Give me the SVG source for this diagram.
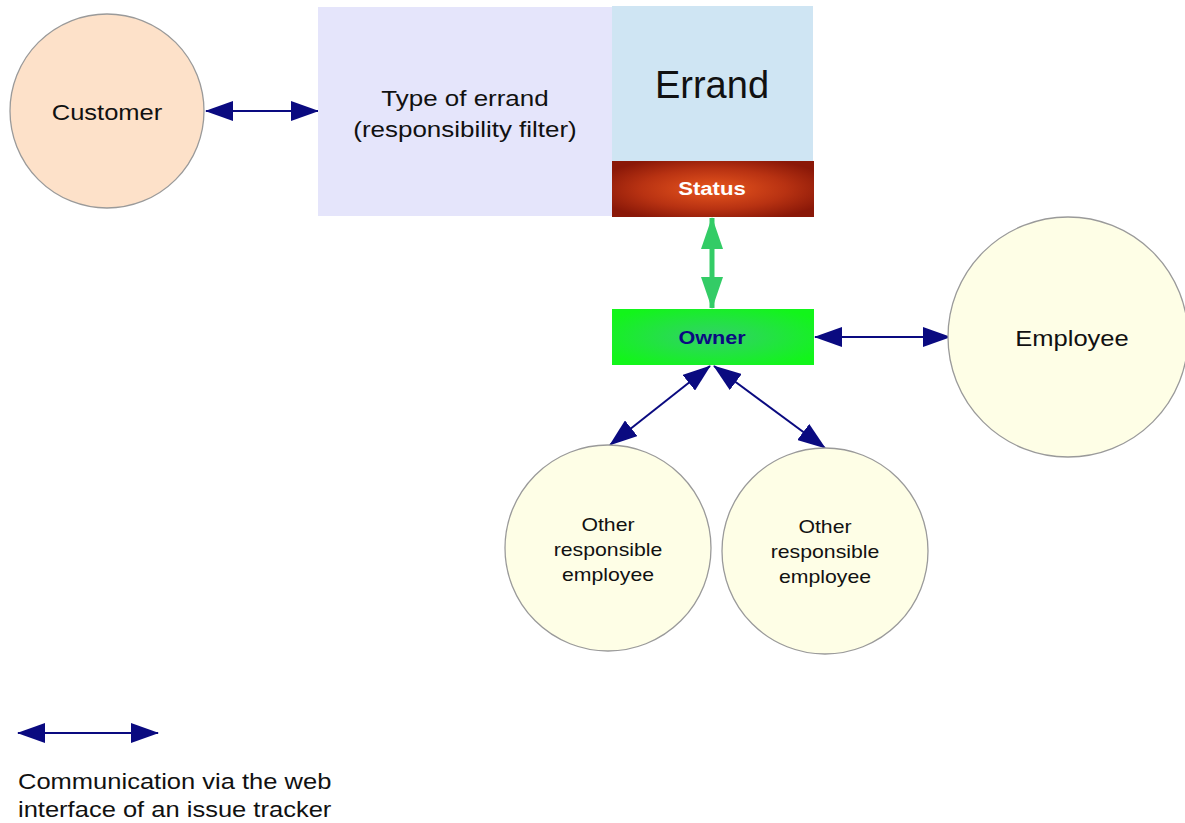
<svg xmlns="http://www.w3.org/2000/svg" width="1185" height="823" viewBox="0 0 1185 823">
<defs>
<style>
text{font-family:"Liberation Sans",Arial,sans-serif;text-anchor:middle;dominant-baseline:central;fill:#111}
.circ{stroke:#9a9a9a;stroke-width:1.3}
.nav{stroke:#0a0a80;stroke-width:2;fill:none;marker-start:url(#nh);marker-end:url(#nh)}
</style>
<marker id="nh" viewBox="0 0 28 20" markerWidth="28" markerHeight="20" refX="27" refY="10" orient="auto-start-reverse" markerUnits="userSpaceOnUse">
<path d="M0,0 L28,10 L0,20 Z" fill="#0a0a80"/>
</marker>
<marker id="gh" viewBox="0 0 32 22" markerWidth="32" markerHeight="22" refX="31" refY="11" orient="auto-start-reverse" markerUnits="userSpaceOnUse">
<path d="M0,0 L32,11 L0,22 Z" fill="#33cc66"/>
</marker>
<radialGradient id="rg" cx="0.5" cy="0.5" r="0.6">
<stop offset="0" stop-color="#e8561e"/>
<stop offset="0.6" stop-color="#b83212"/>
<stop offset="1" stop-color="#8a1808"/>
</radialGradient>
<radialGradient id="gg" cx="0.5" cy="0.5" r="0.6">
<stop offset="0" stop-color="#33d06a"/>
<stop offset="1" stop-color="#12f51a"/>
</radialGradient>
</defs>
<rect width="1185" height="823" fill="#fff"/>
<g id="connectors">
<line class="nav" x1="206" y1="111" x2="318" y2="111"/>
<line x1="712" y1="218" x2="712" y2="308" stroke="#33cc66" stroke-width="5" marker-start="url(#gh)" marker-end="url(#gh)"/>
<line class="nav" x1="815" y1="337" x2="950" y2="337"/>
<line class="nav" x1="710" y1="366" x2="610" y2="445"/>
<line class="nav" x1="714" y1="366" x2="825" y2="448"/>
</g>
<g id="customer">
<circle class="circ" cx="107" cy="111" r="97" fill="#fde1c9"/>
<text transform="translate(107,112) scale(1.16,1)" font-size="22">Customer</text>
</g>
<g id="type-of-errand">
<rect x="318" y="7" width="294" height="209" fill="#e5e5fb"/>
<text transform="translate(465,98) scale(1.18,1)" font-size="22">Type of errand</text>
<text transform="translate(465,129) scale(1.18,1)" font-size="22">(responsibility filter)</text>
</g>
<g id="errand">
<rect x="612" y="6" width="201" height="155" fill="#cfe5f3"/>
<text x="712" y="85" font-size="38">Errand</text>
</g>
<g id="status">
<rect x="612" y="161" width="202" height="56" fill="url(#rg)"/>
<text transform="translate(712,189) scale(1.23,1)" font-size="18" font-weight="bold" style="fill:#fff">Status</text>
</g>
<g id="owner">
<rect x="612" y="309" width="202" height="56" fill="url(#gg)"/>
<text transform="translate(712,338) scale(1.2,1)" font-size="18" font-weight="bold" style="fill:#0a0a80">Owner</text>
</g>
<g id="employee">
<circle class="circ" cx="1068" cy="337" r="120" fill="#fefee6"/>
<text transform="translate(1072,338) scale(1.16,1)" font-size="22">Employee</text>
</g>
<g id="other1">
<circle class="circ" cx="608" cy="548" r="103" fill="#fefee6"/>
<text transform="translate(608,525) scale(1.18,1)" font-size="18">Other</text>
<text transform="translate(608,550) scale(1.18,1)" font-size="18">responsible</text>
<text transform="translate(608,575) scale(1.18,1)" font-size="18">employee</text>
</g>
<g id="other2">
<circle class="circ" cx="825" cy="551" r="103" fill="#fefee6"/>
<text transform="translate(825,527) scale(1.18,1)" font-size="18">Other</text>
<text transform="translate(825,552) scale(1.18,1)" font-size="18">responsible</text>
<text transform="translate(825,577) scale(1.18,1)" font-size="18">employee</text>
</g>
<g id="legend">
<line class="nav" x1="18" y1="733" x2="158" y2="733"/>
<text transform="translate(18,781) scale(1.16,1)" font-size="22" style="text-anchor:start">Communication via the web</text>
<text transform="translate(18,809) scale(1.16,1)" font-size="22" style="text-anchor:start">interface of an issue tracker</text>
</g>
</svg>
